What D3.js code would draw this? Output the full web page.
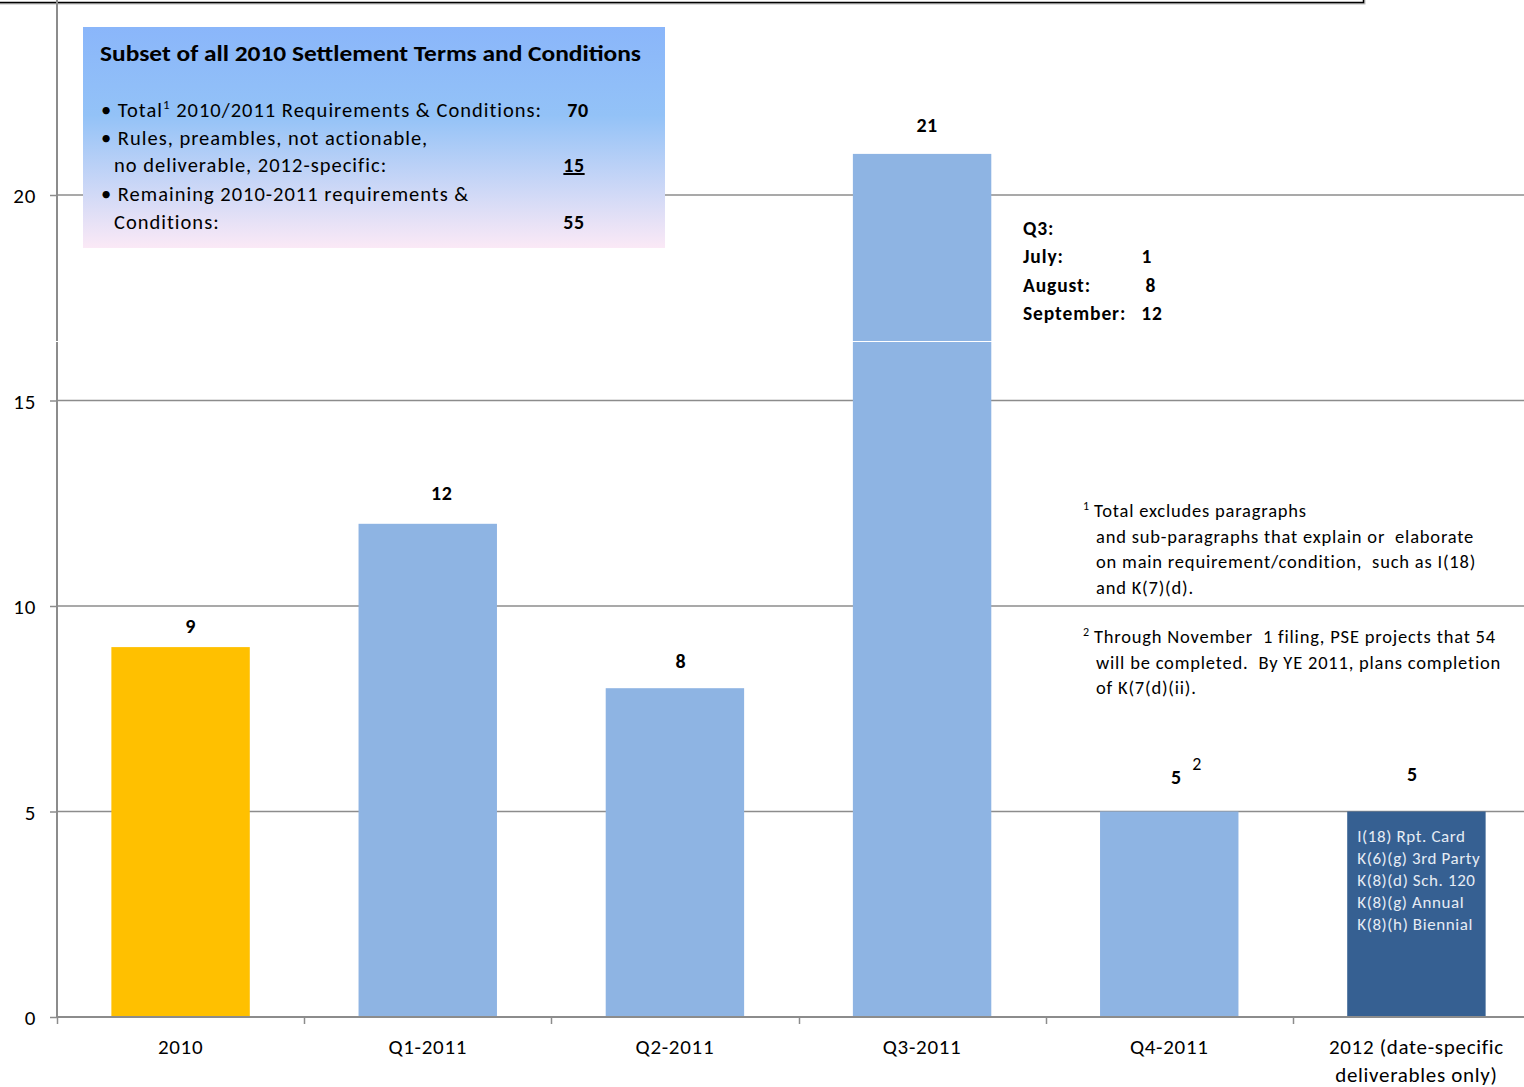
<!DOCTYPE html>
<html>
<head>
<meta charset="utf-8">
<script src="https://cdn.jsdelivr.net/npm/d3@7"></script>
<style>
  html, body { margin: 0; padding: 0; background: #fff; }
  svg { display: block; font-family: Carlito, Lato, "Open Sans", sans-serif; }
</style>
</head>
<body>
<svg id="chart" width="1524" height="1087"></svg>
<script>
// ---------- data ----------
const categories = ["2010", "Q1-2011", "Q2-2011", "Q3-2011", "Q4-2011", "2012 (date-specific\ndeliverables only)"];
const values = [9, 12, 8, 21, 5, 5];
const barGroups = ["past", "2011", "2011", "2011", "2011", "2012"];
const valueSuffix = ["", "", "", "", "2", ""];
const yTicks = [0, 5, 10, 15, 20];

const boxTitle = "Subset of all 2010  Settlement Terms and Conditions";
const boxLines = [
  { text: "• Total", sup: "1", rest: " 2010/2011 Requirements & Conditions:", num: "70", underline: false, indent: false },
  { text: "• Rules, preambles, not actionable,", num: "", indent: false },
  { text: "no deliverable, 2012-specific:", num: "15", underline: true, indent: true },
  { text: "• Remaining 2010-2011 requirements &", num: "", indent: false },
  { text: "Conditions:", num: "55", underline: false, indent: true }
];
const q3Months = ["July:", "August:", "September:"];
const q3Counts = [1, 8, 12];
const footnote1 = ["Total excludes paragraphs", "and sub-paragraphs that explain or  elaborate", "on main requirement/condition,  such as I(18)", "and K(7)(d)."];
const footnote2 = ["Through November  1 filing, PSE projects that 54", "will be completed.  By YE 2011, plans completion", "of K(7(d)(ii)."];
const items2012 = ["I(18) Rpt. Card", "K(6)(g) 3rd Party", "K(8)(d) Sch. 120", "K(8)(g) Annual", "K(8)(h) Biennial"];

// ---------- layout / style ----------
const colors = { past: "#FFC000", "2011": "#8EB4E3", "2012": "#366092" };
const labelNudge = [[10, -14], [14, -24], [6, -20], [5, -22], [7, -28], [-4, -31]];
const gridColor = "#8c8c8c";
const LS = 0.7; // letter spacing for regular text

const svg = d3.select("#chart");
const x = d3.scaleBand().domain(categories).range([57, 1540]).paddingInner(0.44).paddingOuter(0.22);
const y = d3.scaleLinear().domain([0, 20]).range([1017, 195]);

// top border remnant
svg.append("path").attr("d", "M0,3.5H1364.5V0").attr("fill", "none").attr("stroke", "#bbb").attr("stroke-width", 2);
svg.append("path").attr("d", "M0,2.5H1363.5V0").attr("fill", "none").attr("stroke", "#000").attr("stroke-width", 1.5);

// gridlines
svg.append("g").selectAll("line").data(yTicks.filter(d => d > 0)).join("line")
  .attr("x1", 57).attr("x2", 1524).attr("y1", d => y(d)).attr("y2", d => y(d))
  .attr("stroke", gridColor).attr("stroke-width", 1.5);

// y axis
const yAxis = d3.axisLeft(y).tickValues(yTicks).tickSize(7).tickPadding(14);
const gy = svg.append("g").attr("transform", "translate(57,0)").call(yAxis);
gy.select(".domain").remove();
gy.selectAll(".tick line").attr("stroke", gridColor).attr("stroke-width", 1.5);
gy.selectAll(".tick text").attr("font-size", 21).attr("fill", "#000").attr("letter-spacing", LS)
  .attr("font-family", "Carlito, Lato, sans-serif").attr("dy", "0.36em");
svg.append("line").attr("x1", 57).attr("x2", 57).attr("y1", 0).attr("y2", 1017).attr("stroke", gridColor).attr("stroke-width", 2);

// bars
svg.append("g").selectAll("rect").data(categories).join("rect")
  .attr("x", d => x(d)).attr("width", x.bandwidth())
  .attr("y", (d, i) => y(values[i])).attr("height", (d, i) => y(0) - y(values[i]))
  .attr("fill", (d, i) => colors[barGroups[i]]);

// white seam line
svg.append("line").attr("x1", 0).attr("x2", 1524).attr("y1", 341.5).attr("y2", 341.5).attr("stroke", "#fff").attr("stroke-width", 1);

// x axis
svg.append("line").attr("x1", 57).attr("x2", 1524).attr("y1", 1017).attr("y2", 1017).attr("stroke", gridColor).attr("stroke-width", 2.2);
const step = x.step();
const bounds = d3.range(categories.length).map(i => 57 + i * step);
svg.append("g").selectAll("line").data(bounds).join("line")
  .attr("x1", d => Math.round(d) + 0.5).attr("x2", d => Math.round(d) + 0.5).attr("y1", 1017).attr("y2", 1024)
  .attr("stroke", gridColor).attr("stroke-width", 1.5);

const xl = svg.append("g").selectAll("text").data(categories).join("text")
  .attr("x", d => x(d) + x.bandwidth() / 2).attr("y", 1054)
  .attr("text-anchor", "middle").attr("font-size", 21).attr("letter-spacing", LS).attr("fill", "#000");
xl.each(function(d) {
  const parts = d.split("\n");
  d3.select(this).selectAll("tspan").data(parts).join("tspan")
    .attr("x", x(d) + x.bandwidth() / 2).attr("dy", (p, i) => i === 0 ? 0 : 28).text(p => p);
});

// value labels
const vl = svg.append("g").selectAll("text").data(categories).join("text")
  .attr("x", (d, i) => x(d) + x.bandwidth() / 2 + labelNudge[i][0])
  .attr("y", (d, i) => y(values[i]) + labelNudge[i][1])
  .attr("text-anchor", "middle").attr("font-size", 20).attr("font-weight", "bold").attr("letter-spacing", 0.5).attr("fill", "#000")
  .text((d, i) => values[i]);
vl.filter((d, i) => valueSuffix[i] !== "").each(function(d) {
  const i = categories.indexOf(d);
  svg.append("text").attr("x", x(d) + x.bandwidth() / 2 + 23).attr("y", y(values[i]) + labelNudge[i][1] - 14)
    .attr("font-size", 18).attr("fill", "#000").text(valueSuffix[i]);
});

// 2012 item list inside bar
const last = categories[categories.length - 1];
svg.append("g").selectAll("text").data(items2012).join("text")
  .attr("x", x(last) + 10).attr("y", (d, i) => y(values[values.length - 1]) + 30 + i * 22)
  .attr("font-size", 17).attr("letter-spacing", 0.6).attr("fill", "#e6ecf5").text(d => d);

// info box
const defs = svg.append("defs");
const grad = defs.append("linearGradient").attr("id", "boxGrad").attr("x1", 0).attr("y1", 0).attr("x2", 0).attr("y2", 1);
grad.append("stop").attr("offset", "0%").attr("stop-color", "#8ab6fa");
grad.append("stop").attr("offset", "40%").attr("stop-color", "#93c2f7");
grad.append("stop").attr("offset", "100%").attr("stop-color", "#fbe9f6");
svg.append("rect").attr("x", 83).attr("y", 27).attr("width", 582).attr("height", 221).attr("fill", "url(#boxGrad)");
svg.append("text").attr("x", 100).attr("y", 61).attr("font-size", 22.5).attr("font-weight", "bold").attr("fill", "#000")
  .attr("textLength", 541).attr("lengthAdjust", "spacingAndGlyphs").text(boxTitle);
const lineY = [117, 145, 172, 201, 229];
boxLines.forEach((l, i) => {
  const t = svg.append("text").attr("x", l.indent ? 114 : 101).attr("y", lineY[i]).attr("font-size", 20.5)
    .attr("letter-spacing", 1.0).attr("fill", "#000");
  t.append("tspan").text(l.text);
  if (l.sup) {
    t.append("tspan").attr("font-size", 13).attr("dy", -8).text(l.sup);
    t.append("tspan").attr("dy", 8).text(l.rest);
  }
  if (l.num) {
    svg.append("text").attr("x", 574).attr("y", lineY[i]).attr("text-anchor", "middle").attr("font-size", 20)
      .attr("font-weight", "bold").attr("letter-spacing", 0.5).attr("fill", "#000").attr("dx", i === 0 ? 4 : 0)
      .attr("text-decoration", l.underline ? "underline" : null).text(l.num);
  }
});

// Q3 breakdown
const q3 = svg.append("g").attr("font-size", 19.5).attr("font-weight", "bold").attr("letter-spacing", 0.9).attr("fill", "#000");
q3.append("text").attr("x", 1023).attr("y", 235).text("Q3:");
const numX = [1147, 1151, 1152];
q3Months.forEach((m, i) => {
  q3.append("text").attr("x", 1023).attr("y", 263 + i * 28.5).text(m);
  q3.append("text").attr("x", numX[i]).attr("y", 263 + i * 28.5).attr("text-anchor", "middle").text(q3Counts[i]);
});

// footnotes
const fn = svg.append("g").attr("font-size", 18.5).attr("letter-spacing", 0.8).attr("fill", "#000");
function footnote(lines, num, y0) {
  fn.append("text").attr("x", 1083).attr("y", y0 - 7).attr("font-size", 12).attr("letter-spacing", 0).text(num);
  lines.forEach((l, i) => {
    fn.append("text").attr("x", i === 0 ? 1094 : 1096).attr("y", y0 + i * 25.5).attr("xml:space", "preserve").text(l);
  });
}
footnote(footnote1, "1", 517);
footnote(footnote2, "2", 643);
</script>
</body>
</html>
